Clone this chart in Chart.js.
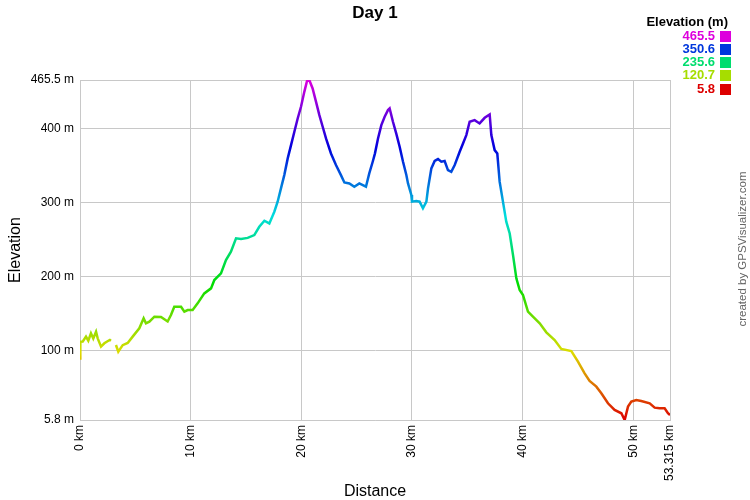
<!DOCTYPE html>
<html><head><meta charset="utf-8">
<script src="https://cdn.jsdelivr.net/npm/chart.js@4/dist/chart.umd.min.js"></script>
<style>html,body{margin:0;padding:0;background:#fff;}#wrap{width:750px;height:500px;position:relative;}</style>
</head><body><div id="wrap"><canvas id="c" width="750" height="500"></canvas></div>
<script>
const chartTitle = 'Day 1';
const xAxisTitle = 'Distance';
const yAxisTitle = 'Elevation';
const legendTitle = 'Elevation (m)';
const creditText = 'created by GPSVisualizer.com';

const distanceKm = [
  0, 0.03, 0.25, 0.54, 0.75, 0.99, 1.2, 1.45, 1.6, 1.9,
  2.2, 2.45, 2.7, 2.8, 2.95, 3.25, 3.46, 3.86, 4.31, 4.76,
  5.36, 5.75, 5.96, 6.27, 6.72, 7.32, 7.92, 8.22, 8.52, 9.13,
  9.43, 9.73, 10.18, 10.63, 11.23, 11.84, 12.14, 12.74, 13.19, 13.64,
  14.10, 14.55, 15.15, 15.75, 16.20, 16.66, 17.11, 17.56, 17.86, 18.16,
  18.46, 18.77, 19.07, 19.37, 19.67, 19.97, 20.27, 20.51, 20.72, 21.02,
  21.33, 21.63, 21.93, 22.23, 22.68, 23.13, 23.58, 23.89, 24.34, 24.79,
  25.24, 25.84, 26.14, 26.45, 26.65, 26.93, 27.23, 27.53, 27.83, 27.98,
  28.28, 28.58, 28.89, 29.19, 29.49, 29.64, 29.94, 30.0, 30.39, 30.69,
  30.99, 31.30, 31.45, 31.75, 32.05, 32.35, 32.65, 32.95, 33.25, 33.55,
  33.86, 34.31, 34.61, 34.91, 35.21, 35.66, 36.11, 36.57, 37.02, 37.17,
  37.47, 37.71, 37.92, 38.22, 38.52, 38.83, 39.13, 39.43, 39.73, 40.03,
  40.48, 40.93, 41.54, 42.14, 42.89, 43.49, 44.40, 45.00, 45.60, 46.05,
  46.66, 47.11, 47.71, 48.31, 48.92, 49.22, 49.52, 49.82, 50.27, 50.72,
  51.48, 51.93, 52.38, 52.83, 53.13, 53.315
];
const elevationM = [
  89, 111.7, 112, 118.5, 113, 123, 116, 125.2, 116.2, 105,
  109.5, 112, 114, 113, null, 107.2, 98.2, 107, 110, 118.5,
  129.7, 143.2, 136.5, 138.7, 145.5, 145, 139, 147.7, 159, 159,
  152.3, 154.5, 154.5, 163.5, 177, 183.8, 195, 204, 222, 233.3,
  251.4, 250.5, 252, 255.9, 267.1, 275.2, 271.6, 287.4, 300.9, 318.9,
  336.9, 359.5, 377.5, 395.5, 413.5, 429.3, 449.5, 464, 465.5, 454,
  436, 418, 402.3, 386.5, 366.2, 350.5, 336.9, 327, 325.7, 321.2,
  325.7, 321.2, 339.2, 355, 366, 386.5, 404.5, 415.8, 424.8, 427,
  409, 393, 375, 355, 337, 325.7, 310, 301, 301.8, 301,
  292, 301, 319, 346, 356, 358.6, 355, 356, 343.7, 341.4,
  350.5, 368.5, 379.7, 391, 409, 411.3, 406.8, 414.4, 419, 391,
  370.7, 366, 328, 301, 273.9, 258, 228.8, 197.3, 181.5, 174.8,
  152.3, 145.5, 136.5, 124.3, 114, 101.8, 99, 84.7, 68.9, 58.6,
  50.9, 41.9, 28.4, 19.4, 14.9, 5.8, 23.9, 30.6, 32.9, 31.5,
  28.4, 22.5, 21.6, 21.6, 14.9, 12.6
];
const xTickValues = [0, 10, 20, 30, 40, 50, 53.315];
const yTickValues = [5.8, 100, 200, 300, 400, 465.5];
const legendValues = [465.5, 350.6, 235.6, 120.7, 5.8];
const elevMin = 5.8, elevMax = 465.5;

function elevColor(e) {
  const h = 300 * (e - elevMin) / (elevMax - elevMin);
  const v = 221;
  if (h >= 300) return `rgb(${v},0,${v})`;
  const sector = Math.floor(h / 60), f = (h / 60) - sector;
  const up = Math.round(v * f), down = Math.round(v * (1 - f));
  let r, g, b;
  switch (sector) {
    case 0: r = v; g = up; b = 0; break;
    case 1: r = down; g = v; b = 0; break;
    case 2: r = 0; g = v; b = up; break;
    case 3: r = 0; g = down; b = v; break;
    default: r = up; g = 0; b = v; break;
  }
  return `rgb(${r},${g},${b})`;
}

const points = distanceKm.map((d, i) => ({ x: d, y: elevationM[i] }));
const FONT = "'Liberation Sans', Arial, Helvetica, sans-serif";

const overlay = {
  id: 'overlay',
  afterDraw(chart) {
    const ctx = chart.ctx;
    ctx.save();
    ctx.textBaseline = 'middle';
    ctx.textAlign = 'center';
    ctx.fillStyle = '#000';
    ctx.font = `bold 17px ${FONT}`;
    ctx.fillText(chartTitle, 375, 13);
    ctx.textAlign = 'right';
    ctx.font = `bold 13px ${FONT}`;
    ctx.fillText(legendTitle, 728, 22);
    legendValues.forEach((v, i) => {
      const y = 36 + i * 13.25;
      ctx.fillStyle = elevColor(v);
      ctx.fillText(String(v), 715, y);
      ctx.fillRect(720, Math.round(y - 5.5), 11, 11);
    });
    ctx.translate(743, 249);
    ctx.rotate(-Math.PI / 2);
    ctx.textAlign = 'center';
    ctx.fillStyle = '#666';
    ctx.font = `11.5px ${FONT}`;
    ctx.fillText(creditText, 0, 0);
    ctx.restore();
  }
};

new Chart(document.getElementById('c'), {
  type: 'line',
  data: {
    datasets: [{
      data: points,
      borderWidth: 2.5,
      pointRadius: 0,
      tension: 0,
      spanGaps: false,
      fill: false,
      borderColor: (context) => {
        const chart = context.chart;
        const { chartArea, scales } = chart;
        if (!chartArea) return '#000';
        const y0 = scales.y.getPixelForValue(elevMin);
        const y1 = scales.y.getPixelForValue(elevMax);
        const g = chart.ctx.createLinearGradient(0, y0, 0, y1);
        for (let i = 0; i <= 5; i++) {
          g.addColorStop(i / 5, elevColor(elevMin + (i / 5) * (elevMax - elevMin)));
        }
        return g;
      }
    }]
  },
  options: {
    responsive: false,
    animation: false,
    devicePixelRatio: 1,
    layout: { padding: { left: 0, right: 80, top: 80, bottom: 0 } },
    plugins: {
      legend: { display: false },
      tooltip: { enabled: false },
      title: { display: false }
    },
    scales: {
      x: {
        type: 'linear',
        min: 0, max: 53.315,
        afterBuildTicks: (s) => { s.ticks = xTickValues.map(v => ({ value: v })); },
        afterFit: (s) => { s.height = 80; },
        grid: { color: '#c8c8c8', drawTicks: false },
        border: { color: '#c8c8c8' },
        ticks: {
          color: '#000', padding: 5, maxRotation: 90, minRotation: 90,
          autoSkip: false,
          font: { family: FONT, size: 12 },
          callback: (v) => v + ' km'
        },
        title: {
          display: true, text: xAxisTitle, color: '#000',
          font: { family: FONT, size: 16 }, padding: { top: 0, bottom: -1 }
        }
      },
      y: {
        type: 'linear',
        min: elevMin, max: elevMax,
        afterBuildTicks: (s) => { s.ticks = yTickValues.map(v => ({ value: v })); },
        afterFit: (s) => { s.width = 80; },
        grid: { color: '#c8c8c8', drawTicks: false },
        border: { color: '#c8c8c8' },
        ticks: {
          color: '#000', padding: 6, autoSkip: false,
          font: { family: FONT, size: 12 },
          callback: (v) => v + ' m'
        },
        title: {
          display: true, text: yAxisTitle, color: '#000',
          font: { family: FONT, size: 16 }, padding: { top: 6, bottom: 0 }
        }
      }
    }
  },
  plugins: [overlay]
});
</script>
</body></html>
